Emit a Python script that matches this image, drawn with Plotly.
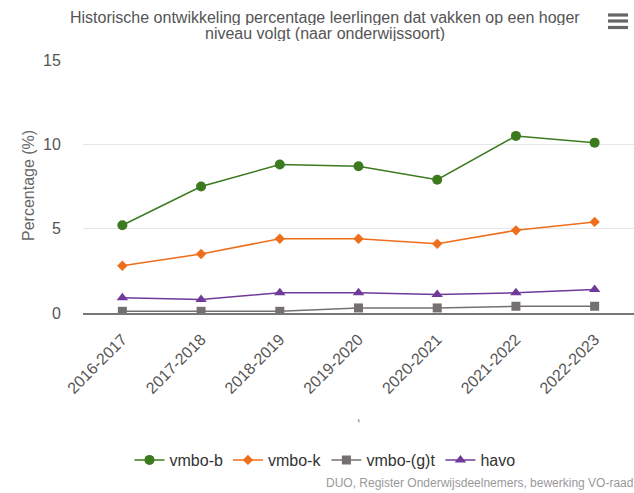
import plotly.graph_objects as go

# ---- data ----
categories = ["2016-2017", "2017-2018", "2018-2019", "2019-2020", "2020-2021", "2021-2022", "2022-2023"]
vmbo_b = [5.2, 7.5, 8.8, 8.7, 7.9, 10.5, 10.1]
vmbo_k = [2.8, 3.5, 4.4, 4.4, 4.1, 4.9, 5.4]
vmbo_gt = [0.1, 0.1, 0.1, 0.3, 0.3, 0.4, 0.4]
havo = [0.9, 0.8, 1.2, 1.2, 1.1, 1.2, 1.4]
y_ticks = [0, 5, 10, 15]

title_line1 = "Historische ontwikkeling percentage leerlingen dat vakken op een hoger"
title_line2 = "niveau volgt (naar onderwijssoort)"
y_title = "Percentage (%)"
credits = "DUO, Register Onderwijsdeelnemers, bewerking VO-raad"

# ---- layout geometry (pixels) ----
W, H = 634, 493
L, R, T, B = 83, 0, 60, 180
PW = W - L - R
PH = H - T - B
FONT = "Liberation Sans, Arial, Helvetica, sans-serif"


def px(xp):
    return (xp - L) / PW


def py(yp):
    return (H - B - yp) / PH


series = [
    ("vmbo-b", vmbo_b, "#3b7a1f", dict(symbol="circle", size=10)),
    ("vmbo-k", vmbo_k, "#ef6e1c", dict(symbol="diamond", size=8)),
    ("vmbo-(g)t", vmbo_gt, "#757070", dict(symbol="square", size=9)),
    ("havo", havo, "#6f3a9a", dict(symbol="triangle-up", size=10)),
]

fig = go.Figure()
for name, vals, color, mk in series:
    fig.add_trace(go.Scatter(
        x=categories, y=vals, name=name, mode="lines+markers",
        line=dict(color=color, width=1.5),
        marker=dict(color=color, symbol=mk["symbol"], size=mk["size"], line=dict(width=0)),
    ))

annotations = [
    dict(text=title_line1, x=px(325), y=py(17), xref="paper", yref="paper",
         xanchor="center", yanchor="middle", showarrow=False, height=15,
         font=dict(size=16, color="#555555", family=FONT)),
    dict(text=title_line2, x=px(325), y=py(33.5), xref="paper", yref="paper",
         xanchor="center", yanchor="middle", showarrow=False, height=15,
         font=dict(size=16, color="#555555", family=FONT)),
    dict(text=y_title, x=px(28), y=py(186), xref="paper", yref="paper",
         xanchor="center", yanchor="middle", showarrow=False, textangle=-90,
         font=dict(size=16, color="#666666", family=FONT)),
    dict(text=",", x=0.5, y=py(417), xref="paper", yref="paper",
         xanchor="center", yanchor="middle", showarrow=False,
         font=dict(size=12, color="#666666", family=FONT)),
    dict(text=credits, x=px(635), y=py(483), xref="paper", yref="paper",
         xanchor="right", yanchor="middle", showarrow=False,
         font=dict(size=12, color="#999999", family=FONT)),
]

shapes = []
for yb in (15, 21, 27.5):
    shapes.append(dict(type="line", xref="paper", yref="paper",
                       x0=px(608), x1=px(628), y0=py(yb), y1=py(yb),
                       line=dict(color="#666666", width=3.2)))

fig.update_layout(
    width=W, height=H,
    margin=dict(l=L, r=R, t=T, b=B, pad=0),
    paper_bgcolor="white", plot_bgcolor="white",
    font=dict(family=FONT, size=16, color="#555555"),
    showlegend=True,
    legend=dict(orientation="h", x=px(325), y=py(460), xanchor="center", yanchor="middle",
                font=dict(size=16, color="#333333", family=FONT),
                itemwidth=30, tracegroupgap=0, bgcolor="rgba(0,0,0,0)"),
    annotations=annotations,
    shapes=shapes,
    xaxis=dict(
        type="category", range=[-0.5, 6.5], tickangle=-45,
        showgrid=False, zeroline=False, showline=True,
        linecolor="#777777", linewidth=1.5,
        ticks="outside", ticklen=9, tickcolor="rgba(0,0,0,0)",
        tickfont=dict(size=16, color="#555555", family=FONT),
        fixedrange=True,
    ),
    yaxis=dict(
        range=[0, 15], tickvals=y_ticks, showgrid=True, gridcolor="#e6e6e6", gridwidth=1,
        zeroline=False, showline=False, ticks="outside", ticklen=18, tickcolor="rgba(0,0,0,0)",
        tickfont=dict(size=16, color="#555555", family=FONT),
        fixedrange=True,
    ),
)

fig.write_html("out.html", config={"displayModeBar": False},
               post_script="document.body.style.margin='0';document.body.style.overflow='hidden';")
